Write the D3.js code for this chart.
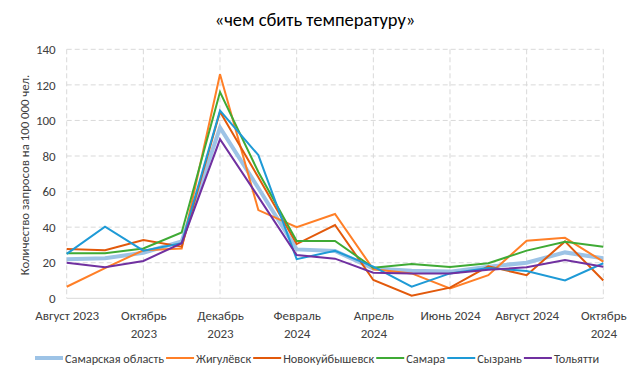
<!DOCTYPE html>
<html><head><meta charset="utf-8">
<script src="https://cdn.jsdelivr.net/npm/d3@7"></script>
<style>
body{margin:0;background:#fff;}
text{font-family:Carlito, Calibri, Lato, "Open Sans", sans-serif;}
</style></head>
<body><svg id="c" width="631" height="378"></svg>
<script>
const months = ["2023-08","2023-09","2023-10","2023-11","2023-12","2024-01","2024-02","2024-03","2024-04","2024-05","2024-06","2024-07","2024-08","2024-09","2024-10"];
const tickLabels = {"2023-08":"Август 2023","2023-10":"Октябрь\n2023","2023-12":"Декабрь\n2023","2024-02":"Февраль\n2024","2024-04":"Апрель\n2024","2024-06":"Июнь 2024","2024-08":"Август 2024","2024-10":"Октябрь\n2024"};
const yTicks = [0,20,40,60,80,100,120,140];
const seriesNames = ["Самарская область","Жигулёвск","Новокуйбышевск","Самара","Сызрань","Тольятти"];
const samarskayaObl = [22,22.5,25.6,32,96,62,27.5,26.6,16.8,15.5,15,17.8,20,25.8,22.5];
const zhigulevsk    = [6.5,17,27,28,126,49.6,40,47.4,16.3,14,5.6,13,32.4,34,20.6];
const novokuib      = [27.7,27,32.8,29,104.9,68,30.5,41.2,10.3,1.5,6,18,13,32,10];
const samara        = [25.3,25.3,28,37,116,71,32.2,32.2,17.2,19.3,17.6,19.7,26.8,31.8,29];
const syzran        = [25,40.3,26.8,31,105.5,80.5,22,26.7,17.8,6.5,14,17,15.3,10,19.7];
const tolyatti      = [20,17.4,21,31,89.4,57,24.3,22.3,14.4,14,14,16,17.4,21.5,17.8];
const seriesValues = [samarskayaObl,zhigulevsk,novokuib,samara,syzran,tolyatti];
const colors = ["#9DC3E6","#FF7F27","#E2590B","#3FAA35","#1E9AD6","#7030A0"];
const widths = [4,2,2,2,2,2];

const svg = d3.select("#c");
const x = d3.scalePoint().domain(months).range([66.7,603.3]);
const y = d3.scaleLinear().domain([0,140]).range([298.3,49.3]);

svg.append("text").attr("x",315).attr("y",26).attr("text-anchor","middle")
  .attr("font-size",18.5).attr("fill","#000").text("«чем сбить температуру»");

svg.append("g").selectAll("line").data(yTicks.filter(d=>d>0)).join("line")
  .attr("x1",66.7).attr("x2",603.3).attr("y1",d=>y(d)).attr("y2",d=>y(d))
  .attr("stroke","#d9d9d9").attr("stroke-dasharray","5,3");
const tickMonths = months.filter(m=>tickLabels[m]);
svg.append("g").selectAll("line").data(tickMonths).join("line")
  .attr("x1",d=>x(d)).attr("x2",d=>x(d)).attr("y1",y(140)).attr("y2",y(0))
  .attr("stroke","#d9d9d9").attr("stroke-dasharray","5,3");
svg.append("line").attr("x1",66.7).attr("x2",603.3).attr("y1",y(0)).attr("y2",y(0)).attr("stroke","#d9d9d9");

const yAxis = d3.axisLeft(y).tickValues(yTicks).tickSize(0).tickPadding(11);
const gy = svg.append("g").attr("transform","translate(66.7,0)").call(yAxis);
gy.select(".domain").remove();
gy.selectAll("text").attr("font-size",13).attr("fill","#404040").style("font-family","Carlito, Calibri, Lato, sans-serif");

const xAxis = d3.axisBottom(x).tickValues(tickMonths).tickSize(0).tickFormat(()=>"");
const gx = svg.append("g").attr("transform",`translate(0,${y(0)})`).call(xAxis);
gx.select(".domain").remove();
gx.selectAll(".tick").each(function(d){
  const lines = tickLabels[d].split("\n");
  const t = d3.select(this).append("text").attr("fill","#404040").attr("font-size",13)
    .attr("text-anchor","middle").attr("y",22);
  lines.forEach((l,i)=>t.append("tspan").attr("x",0).attr("dy",i===0?0:18).text(l));
});

svg.append("text").attr("transform","translate(29,175) rotate(-90)").attr("text-anchor","middle")
  .attr("font-size",12.8).attr("fill","#404040").text("Количество запросов на 100 000 чел.");

const line = d3.line().x((d,i)=>x(months[i])).y(d=>y(d));
seriesValues.forEach((vals,k)=>{
  svg.append("path").datum(vals).attr("d",line).attr("fill","none")
    .attr("stroke",colors[k]).attr("stroke-width",widths[k]).attr("stroke-linejoin","miter");
});

const lg = svg.append("g");
let lx = 35; const ly = 358;
seriesNames.forEach((n,k)=>{
  lg.append("line").attr("x1",lx).attr("x2",lx+28).attr("y1",ly).attr("y2",ly)
    .attr("stroke",colors[k]).attr("stroke-width",widths[k]);
  const t = lg.append("text").attr("x",lx+30).attr("y",ly+4.5).attr("font-size",12.3).attr("fill","#404040").text(n);
  lx += 30 + t.node().getComputedTextLength() + 2;
});
</script></body></html>
